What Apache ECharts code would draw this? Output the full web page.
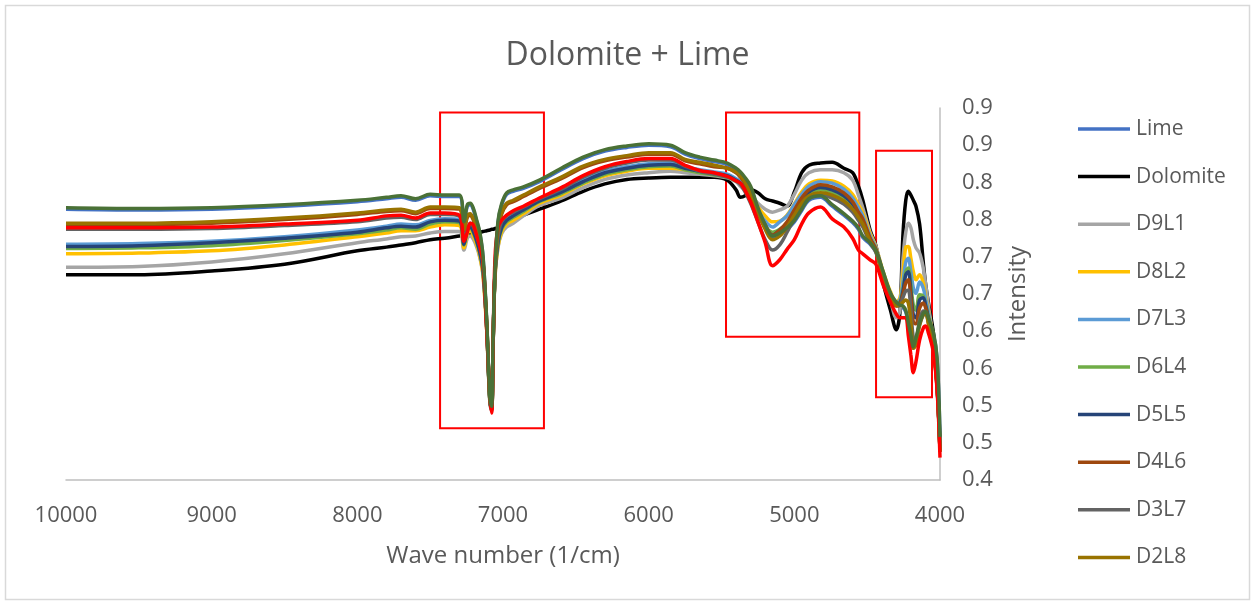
<!DOCTYPE html>
<html>
<head>
<meta charset="utf-8">
<script src="https://cdn.jsdelivr.net/npm/echarts@6/dist/echarts.min.js"></script>
<style>html,body{margin:0;padding:0;background:#fff}#c{width:1255px;height:605px}</style>
</head>
<body>
<div id="c"></div>
<script>
const xValues = [10000, 9500, 9000, 8500, 8000, 7800, 7700, 7600, 7500, 7400, 7300, 7268, 7245, 7225, 7205, 7180, 7158, 7137, 7112, 7090, 7078, 7068, 7055, 7035, 7010, 6975, 6930, 6860, 6750, 6600, 6450, 6300, 6150, 6000, 5850, 5750, 5650, 5550, 5460, 5400, 5370, 5340, 5300, 5250, 5200, 5150, 5100, 5050, 5000, 4950, 4900, 4820, 4740, 4660, 4600, 4560, 4530, 4480, 4440, 4390, 4340, 4300, 4275, 4255, 4235, 4218, 4200, 4183, 4165, 4140, 4115, 4098, 4080, 4046, 4020, 4000];

const lime = [0.764, 0.763, 0.764, 0.768, 0.774, 0.778, 0.780, 0.776, 0.782, 0.781, 0.781, 0.745, 0.768, 0.770, 0.764, 0.747, 0.730, 0.699, 0.613, 0.509, 0.498, 0.586, 0.680, 0.745, 0.769, 0.784, 0.788, 0.792, 0.801, 0.817, 0.832, 0.842, 0.847, 0.850, 0.848, 0.838, 0.832, 0.828, 0.824, 0.817, 0.812, 0.805, 0.793, 0.764, 0.741, 0.726, 0.730, 0.737, 0.747, 0.762, 0.776, 0.780, 0.768, 0.756, 0.746, 0.737, 0.726, 0.717, 0.706, 0.678, 0.649, 0.637, 0.633, 0.632, 0.626, 0.610, 0.593, 0.577, 0.589, 0.609, 0.622, 0.624, 0.616, 0.597, 0.562, 0.456];

const dolomite = [0.676, 0.676, 0.681, 0.690, 0.708, 0.713, 0.716, 0.719, 0.723, 0.725, 0.728, 0.729, 0.730, 0.731, 0.731, 0.732, 0.733, 0.734, 0.735, 0.736, 0.737, 0.737, 0.738, 0.739, 0.741, 0.745, 0.749, 0.756, 0.764, 0.775, 0.788, 0.798, 0.804, 0.806, 0.807, 0.807, 0.807, 0.807, 0.803, 0.790, 0.780, 0.782, 0.790, 0.786, 0.778, 0.775, 0.772, 0.768, 0.787, 0.813, 0.823, 0.826, 0.827, 0.819, 0.813, 0.795, 0.776, 0.736, 0.715, 0.665, 0.628, 0.602, 0.626, 0.727, 0.776, 0.788, 0.783, 0.776, 0.768, 0.744, 0.693, 0.662, 0.639, 0.599, 0.541, 0.447];

const d9l1 = [0.686, 0.687, 0.693, 0.704, 0.719, 0.724, 0.727, 0.728, 0.732, 0.734, 0.734, 0.709, 0.725, 0.728, 0.724, 0.713, 0.698, 0.676, 0.604, 0.508, 0.501, 0.581, 0.672, 0.712, 0.731, 0.740, 0.745, 0.755, 0.769, 0.779, 0.793, 0.804, 0.810, 0.813, 0.815, 0.813, 0.811, 0.809, 0.806, 0.801, 0.795, 0.790, 0.783, 0.772, 0.764, 0.760, 0.763, 0.768, 0.784, 0.803, 0.813, 0.817, 0.817, 0.813, 0.803, 0.783, 0.766, 0.733, 0.714, 0.676, 0.642, 0.618, 0.628, 0.696, 0.733, 0.745, 0.739, 0.723, 0.712, 0.705, 0.685, 0.662, 0.635, 0.588, 0.528, 0.443];

const d8l2 = [0.704, 0.705, 0.708, 0.716, 0.727, 0.732, 0.735, 0.735, 0.740, 0.743, 0.742, 0.712, 0.731, 0.735, 0.729, 0.716, 0.700, 0.674, 0.602, 0.505, 0.494, 0.580, 0.674, 0.713, 0.733, 0.744, 0.749, 0.758, 0.772, 0.783, 0.798, 0.809, 0.815, 0.819, 0.819, 0.817, 0.814, 0.811, 0.809, 0.803, 0.799, 0.792, 0.782, 0.767, 0.755, 0.747, 0.748, 0.756, 0.771, 0.787, 0.798, 0.803, 0.802, 0.795, 0.784, 0.770, 0.759, 0.731, 0.713, 0.680, 0.653, 0.639, 0.645, 0.676, 0.713, 0.714, 0.698, 0.680, 0.669, 0.676, 0.665, 0.645, 0.628, 0.588, 0.528, 0.440];

const d7l3 = [0.717, 0.718, 0.721, 0.727, 0.736, 0.741, 0.744, 0.743, 0.749, 0.751, 0.750, 0.719, 0.737, 0.741, 0.736, 0.723, 0.706, 0.682, 0.607, 0.508, 0.497, 0.583, 0.680, 0.720, 0.740, 0.751, 0.756, 0.764, 0.776, 0.789, 0.803, 0.815, 0.821, 0.825, 0.826, 0.821, 0.817, 0.814, 0.811, 0.805, 0.801, 0.793, 0.780, 0.763, 0.748, 0.740, 0.747, 0.755, 0.770, 0.784, 0.795, 0.801, 0.799, 0.791, 0.779, 0.766, 0.755, 0.728, 0.712, 0.678, 0.651, 0.638, 0.642, 0.665, 0.693, 0.698, 0.680, 0.658, 0.651, 0.666, 0.658, 0.642, 0.626, 0.585, 0.528, 0.440];

const d6l4 = [0.711, 0.712, 0.715, 0.722, 0.731, 0.736, 0.739, 0.737, 0.744, 0.747, 0.746, 0.716, 0.735, 0.739, 0.733, 0.720, 0.704, 0.680, 0.606, 0.506, 0.495, 0.581, 0.677, 0.717, 0.737, 0.747, 0.753, 0.761, 0.774, 0.785, 0.799, 0.811, 0.817, 0.821, 0.822, 0.817, 0.813, 0.810, 0.807, 0.802, 0.798, 0.790, 0.776, 0.758, 0.741, 0.733, 0.737, 0.745, 0.759, 0.775, 0.784, 0.790, 0.787, 0.779, 0.768, 0.756, 0.747, 0.723, 0.709, 0.677, 0.650, 0.637, 0.639, 0.655, 0.680, 0.685, 0.662, 0.635, 0.628, 0.649, 0.647, 0.635, 0.620, 0.583, 0.528, 0.440];

const d5l5 = [0.714, 0.715, 0.719, 0.725, 0.733, 0.739, 0.741, 0.740, 0.747, 0.749, 0.748, 0.717, 0.736, 0.740, 0.735, 0.721, 0.705, 0.681, 0.606, 0.506, 0.495, 0.581, 0.678, 0.719, 0.739, 0.749, 0.755, 0.763, 0.775, 0.787, 0.801, 0.813, 0.819, 0.823, 0.824, 0.819, 0.815, 0.812, 0.809, 0.803, 0.799, 0.791, 0.778, 0.758, 0.740, 0.729, 0.736, 0.745, 0.760, 0.776, 0.787, 0.793, 0.790, 0.782, 0.771, 0.758, 0.748, 0.724, 0.709, 0.677, 0.650, 0.637, 0.638, 0.653, 0.676, 0.680, 0.653, 0.622, 0.618, 0.642, 0.645, 0.634, 0.618, 0.581, 0.526, 0.440];

const d4l6 = [0.743, 0.743, 0.745, 0.750, 0.757, 0.761, 0.762, 0.758, 0.765, 0.765, 0.764, 0.735, 0.753, 0.756, 0.750, 0.737, 0.721, 0.692, 0.611, 0.506, 0.495, 0.584, 0.678, 0.735, 0.757, 0.770, 0.774, 0.781, 0.792, 0.805, 0.820, 0.829, 0.834, 0.838, 0.838, 0.829, 0.825, 0.821, 0.819, 0.813, 0.807, 0.799, 0.784, 0.762, 0.743, 0.729, 0.736, 0.747, 0.763, 0.779, 0.790, 0.797, 0.794, 0.786, 0.774, 0.760, 0.751, 0.725, 0.710, 0.676, 0.649, 0.635, 0.637, 0.649, 0.665, 0.669, 0.645, 0.612, 0.610, 0.631, 0.638, 0.631, 0.615, 0.580, 0.526, 0.438];

const d3l7 = [0.737, 0.737, 0.738, 0.742, 0.747, 0.752, 0.753, 0.750, 0.757, 0.757, 0.755, 0.723, 0.736, 0.745, 0.741, 0.728, 0.713, 0.690, 0.604, 0.503, 0.493, 0.580, 0.676, 0.725, 0.747, 0.755, 0.760, 0.767, 0.778, 0.791, 0.807, 0.819, 0.826, 0.830, 0.830, 0.822, 0.815, 0.811, 0.807, 0.802, 0.797, 0.788, 0.772, 0.747, 0.723, 0.709, 0.716, 0.733, 0.752, 0.770, 0.780, 0.783, 0.779, 0.771, 0.760, 0.749, 0.740, 0.719, 0.706, 0.674, 0.647, 0.634, 0.635, 0.645, 0.654, 0.655, 0.628, 0.591, 0.588, 0.615, 0.627, 0.626, 0.612, 0.577, 0.524, 0.438];

const d2l8 = [0.745, 0.745, 0.747, 0.752, 0.759, 0.763, 0.764, 0.760, 0.767, 0.767, 0.766, 0.736, 0.755, 0.758, 0.752, 0.739, 0.723, 0.693, 0.612, 0.508, 0.497, 0.585, 0.680, 0.736, 0.759, 0.772, 0.776, 0.783, 0.794, 0.807, 0.822, 0.831, 0.836, 0.840, 0.840, 0.831, 0.827, 0.823, 0.819, 0.814, 0.809, 0.801, 0.784, 0.760, 0.737, 0.723, 0.728, 0.740, 0.756, 0.772, 0.782, 0.786, 0.783, 0.775, 0.764, 0.753, 0.744, 0.721, 0.708, 0.673, 0.646, 0.634, 0.635, 0.639, 0.642, 0.638, 0.612, 0.577, 0.581, 0.608, 0.622, 0.623, 0.610, 0.575, 0.524, 0.438];

const d1l9 = [0.739, 0.739, 0.740, 0.744, 0.749, 0.755, 0.756, 0.752, 0.759, 0.759, 0.756, 0.721, 0.733, 0.745, 0.743, 0.728, 0.713, 0.693, 0.602, 0.514, 0.490, 0.581, 0.698, 0.739, 0.749, 0.756, 0.762, 0.768, 0.779, 0.793, 0.809, 0.821, 0.828, 0.832, 0.832, 0.823, 0.816, 0.813, 0.808, 0.802, 0.799, 0.790, 0.774, 0.747, 0.719, 0.688, 0.696, 0.710, 0.723, 0.744, 0.759, 0.767, 0.751, 0.740, 0.725, 0.709, 0.704, 0.696, 0.690, 0.662, 0.639, 0.623, 0.618, 0.618, 0.618, 0.595, 0.568, 0.544, 0.559, 0.588, 0.604, 0.607, 0.598, 0.572, 0.521, 0.430];

const d0l10 = [0.766, 0.765, 0.766, 0.770, 0.776, 0.780, 0.782, 0.778, 0.784, 0.783, 0.783, 0.747, 0.770, 0.772, 0.766, 0.749, 0.732, 0.701, 0.615, 0.510, 0.499, 0.588, 0.682, 0.747, 0.771, 0.786, 0.790, 0.794, 0.803, 0.819, 0.834, 0.844, 0.849, 0.852, 0.850, 0.840, 0.834, 0.830, 0.826, 0.819, 0.814, 0.807, 0.795, 0.766, 0.743, 0.728, 0.732, 0.739, 0.749, 0.764, 0.778, 0.782, 0.770, 0.758, 0.748, 0.739, 0.728, 0.719, 0.708, 0.680, 0.651, 0.639, 0.635, 0.634, 0.628, 0.612, 0.595, 0.579, 0.591, 0.611, 0.624, 0.626, 0.618, 0.599, 0.564, 0.458];

const seriesNames = ['Lime', 'Dolomite', 'D9L1', 'D8L2', 'D7L3', 'D6L4', 'D5L5', 'D4L6', 'D3L7', 'D2L8', 'D1L9', 'D0L10'];
const seriesValues = [lime, dolomite, d9l1, d8l2, d7l3, d6l4, d5l5, d4l6, d3l7, d2l8, d1l9, d0l10];
const legendNames = ['Lime', 'Dolomite', 'D9L1', 'D8L2', 'D7L3', 'D6L4', 'D5L5', 'D4L6', 'D3L7', 'D2L8'];
const yTickLabels = ['0.4', '0.5', '0.5', '0.6', '0.6', '0.7', '0.7', '0.8', '0.8', '0.9', '0.9'];
const xTickLabels = ['4000', '5000', '6000', '7000', '8000', '9000', '10000'];
// annotation boxes: [x1, y1, x2, y2] in data units
const boxes = [[7432, 0.894, 6719, 0.4695], [5469, 0.894, 4554, 0.5926], [4439, 0.8426, 4055, 0.5111]];

const colors = ['#4472C4', '#000000', '#A5A5A5', '#FFC000', '#5B9BD5', '#70AD47', '#264478', '#9E480E', '#636363', '#997300', '#FF0000', '#4A7136'];
const FONT = 'Open Sans';
const TXT = '#595959';

const series = seriesNames.map((name, k) => ({
  name: name,
  type: 'line',
  data: xValues.map((x, i) => [x, seriesValues[k][i]]),
  showSymbol: false,
  symbol: 'none',
  smooth: 0.35,
  lineStyle: { width: 3.5, color: colors[k] },
  itemStyle: { color: colors[k] },
  z: 2 + k
}));

series.push({
  name: 'boxes',
  type: 'line',
  data: [],
  silent: true,
  z: 30,
  markArea: {
    silent: true,
    itemStyle: { color: 'rgba(0,0,0,0)', borderColor: '#FF0000', borderWidth: 2 },
    data: boxes.map(b => [{ coord: [b[0], b[1]] }, { coord: [b[2], b[3]] }])
  }
});

const chart = echarts.init(document.getElementById('c'), null, { renderer: 'canvas' });
chart.setOption({
  animation: false,
  backgroundColor: '#ffffff',
  color: colors,
  title: {
    text: 'Dolomite + Lime',
    left: 'center',
    top: 35,
    textStyle: { fontFamily: FONT, fontSize: 32, fontWeight: 'normal', color: TXT }
  },
  graphic: [{
    type: 'rect',
    shape: { x: 5.5, y: 5.5, width: 1244, height: 594 },
    style: { fill: 'none', stroke: '#d9d9d9', lineWidth: 1.5 },
    silent: true,
    z: -1
  }],
  legend: {
    data: legendNames,
    orient: 'vertical',
    left: 1078,
    top: 117,
    padding: 0,
    icon: 'rect',
    itemWidth: 52,
    itemHeight: 3.5,
    itemGap: 23.6,
    textStyle: { fontFamily: FONT, fontSize: 21, color: TXT, lineHeight: 24, padding: [0, 0, 0, 1] }
  },
  grid: { left: 66, right: 315, top: 108, bottom: 125, containLabel: false },
  xAxis: {
    type: 'value',
    inverse: true,
    min: 4000,
    max: 10000,
    interval: 1000,
    name: 'Wave number (1/cm)',
    nameLocation: 'middle',
    nameGap: 64,
    nameTextStyle: { fontFamily: FONT, fontSize: 24, color: TXT },
    axisLine: { show: true, lineStyle: { color: '#BFBFBF', width: 1.5 } },
    axisTick: { show: false },
    splitLine: { show: false },
    axisLabel: {
      margin: 25,
      fontFamily: FONT, fontSize: 22, color: TXT,
      formatter: (v) => { const i = xTickLabels.indexOf(String(Math.round(v))); return i >= 0 ? xTickLabels[i] : ''; }
    }
  },
  yAxis: {
    type: 'value',
    position: 'right',
    min: 0.4,
    max: 0.9,
    interval: 0.05,
    name: 'Intensity',
    nameLocation: 'middle',
    nameRotate: 90,
    nameGap: 66,
    nameTextStyle: { fontFamily: FONT, fontSize: 24, color: TXT },
    axisLine: { show: true, lineStyle: { color: '#BFBFBF', width: 1.5 } },
    axisTick: { show: false },
    splitLine: { show: false },
    axisLabel: {
      margin: 22,
      fontFamily: FONT, fontSize: 22, color: TXT,
      formatter: (v, i) => yTickLabels[i]
    }
  },
  series: series
});
</script>
</body>
</html>
